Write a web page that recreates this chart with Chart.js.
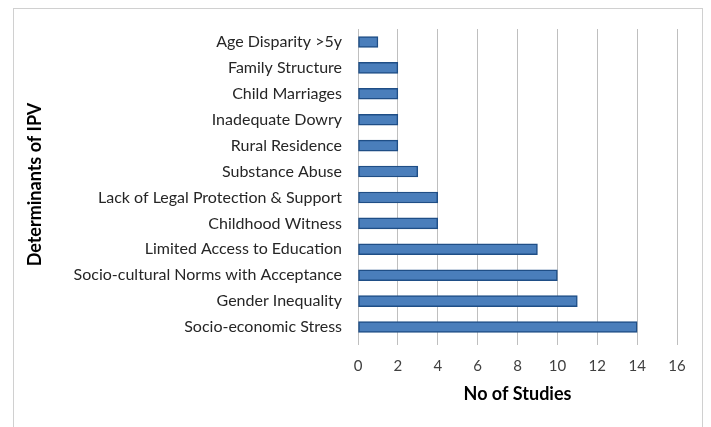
<!DOCTYPE html>
<html>
<head>
<meta charset="utf-8">
<script src="https://cdn.jsdelivr.net/npm/chart.js@4/dist/chart.umd.min.js"></script>
<style>
  html, body { margin: 0; padding: 0; background: #fff; }
  #wrap { position: relative; width: 711px; height: 427px; }
  #frame { position: absolute; left: 13px; top: 8px; width: 690px; height: 430px;
           border: 1px solid #d0d0d0; box-sizing: border-box; }
  canvas { position: absolute; left: 0; top: 0; }
</style>
</head>
<body>
<div id="wrap">
  <div id="frame"></div>
  <canvas id="chart" width="711" height="427"></canvas>
</div>
<script>
// categorias de cima para baixo
const determinants = [
    "Age Disparity >5y",
    "Family Structure",
    "Child Marriages",
    "Inadequate Dowry",
    "Rural Residence",
    "Substance Abuse",
    "Lack of Legal Protection & Support",
    "Childhood Witness",
    "Limited Access to Education",
    "Socio-cultural Norms with Acceptance",
    "Gender Inequality",
    "Socio-economic Stress"
];
const studyCounts = [1, 2, 2, 2, 2, 3, 4, 4, 9, 10, 11, 14];
const xTicks = [0, 2, 4, 6, 8, 10, 12, 14, 16];

const fontFamily = "Lato, 'Open Sans', sans-serif";

const ctx = document.getElementById('chart').getContext('2d');

new Chart(ctx, {
    type: 'bar',
    data: {
        labels: determinants,
        datasets: [{
            label: 'No of Studies',
            data: studyCounts,
            backgroundColor: '#4a7ebb',
            borderColor: '#1f4e86',
            borderWidth: 1.5,
            borderSkipped: false,
            barThickness: 11
        }]
    },
    options: {
        indexAxis: 'y',
        responsive: false,
        animation: false,
        layout: { padding: { top: 29, right: 34, left: 0, bottom: 22 } },
        plugins: {
            legend: { display: false },
            tooltip: { enabled: false }
        },
        scales: {
            x: {
                min: 0,
                max: 16,
                afterBuildTicks: (scale) => { scale.ticks = xTicks.map(v => ({ value: v })); },
                afterFit: (scale) => { scale.height = 65; },
                grid: {
                    color: '#bfbfbf',
                    lineWidth: 1,
                    drawTicks: true,
                    tickLength: 5
                },
                border: { display: false },
                ticks: {
                    color: '#404040',
                    padding: 12,
                    font: { family: fontFamily, size: 15 }
                },
                title: {
                    display: true,
                    text: 'No of Studies',
                    color: '#000',
                    padding: { top: 4, bottom: 0 },
                    font: { family: fontFamily, size: 18, weight: 'bold' }
                }
            },
            y: {
                afterFit: (scale) => { scale.width = 358; },
                grid: { display: false, drawTicks: false },
                border: { display: true, color: '#bfbfbf', width: 1 },
                ticks: {
                    color: '#262626',
                    padding: 16,
                    autoSkip: false,
                    font: { family: fontFamily, size: 16 }
                },
                title: {
                    display: true,
                    text: 'Determinants of IPV',
                    color: '#000',
                    padding: { top: 24, bottom: 0 },
                    font: { family: fontFamily, size: 18, weight: 'bold' }
                }
            }
        }
    }
});
</script>
</body>
</html>
